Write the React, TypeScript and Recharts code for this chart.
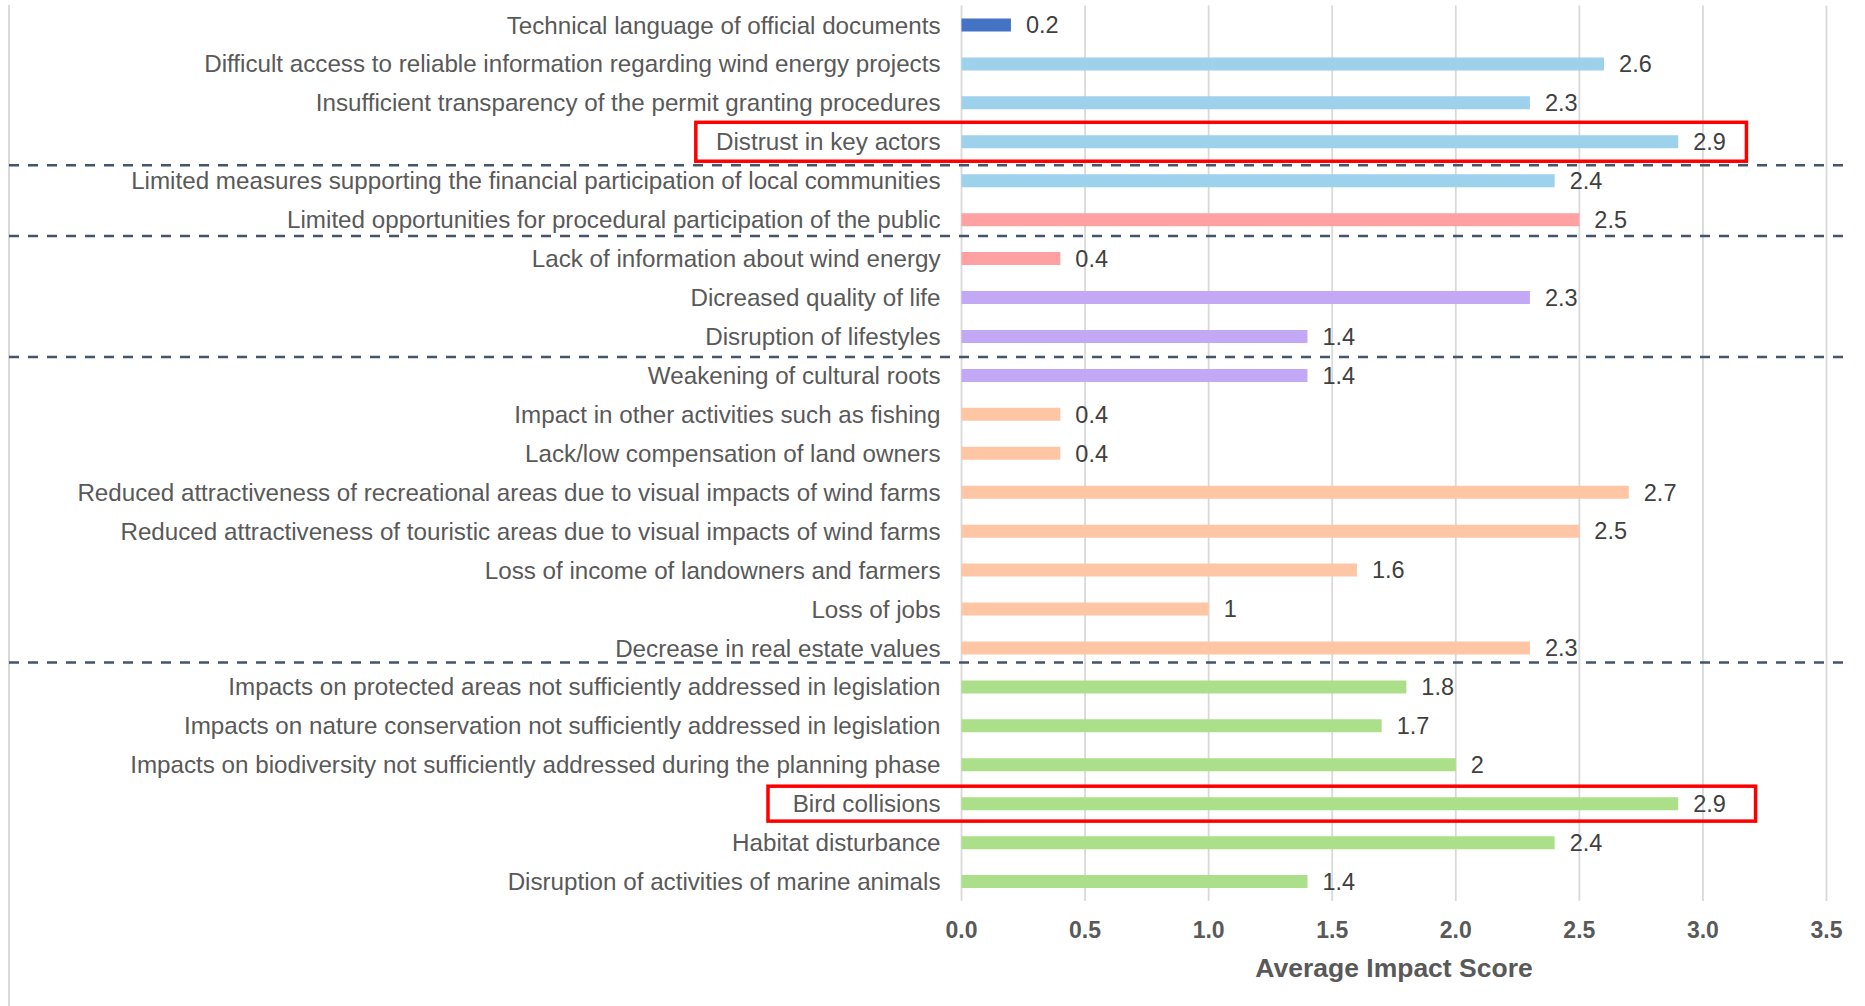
import React from "react";
import {
  BarChart,
  Bar,
  XAxis,
  YAxis,
  CartesianGrid,
  Cell,
  LabelList,
  ReferenceLine,
  ReferenceArea,
} from "recharts";

/* ---------- data ---------- */

const categories = [
  "Technical language of official documents",
  "Difficult access to reliable information regarding wind energy projects",
  "Insufficient transparency of the permit granting procedures",
  "Distrust in key actors",
  "Limited measures supporting the financial participation of local communities",
  "Limited opportunities for procedural participation of the public",
  "Lack of information about wind energy",
  "Dicreased quality of life",
  "Disruption of lifestyles",
  "Weakening of cultural roots",
  "Impact in other activities such as fishing",
  "Lack/low compensation of land owners",
  "Reduced attractiveness of recreational areas due to visual impacts of wind farms",
  "Reduced attractiveness of touristic areas due to visual impacts of wind farms",
  "Loss of income of landowners and farmers",
  "Loss of jobs",
  "Decrease in real estate values",
  "Impacts on protected areas not sufficiently addressed in legislation",
  "Impacts on nature conservation not sufficiently addressed in legislation",
  "Impacts on biodiversity not sufficiently addressed during the planning phase",
  "Bird collisions",
  "Habitat disturbance",
  "Disruption of activities of marine animals",
];

const scores = [
  0.2, 2.6, 2.3, 2.9, 2.4, 2.5, 0.4, 2.3, 1.4, 1.4, 0.4, 0.4, 2.7, 2.5, 1.6, 1,
  2.3, 1.8, 1.7, 2, 2.9, 2.4, 1.4,
];

// colour group of each bar
const groups = [
  "technical",
  "institutional", "institutional", "institutional", "institutional",
  "participation", "participation",
  "social", "social", "social",
  "economic", "economic", "economic", "economic", "economic", "economic", "economic",
  "environmental", "environmental", "environmental", "environmental", "environmental", "environmental",
];

const xTicks = [0, 0.5, 1, 1.5, 2, 2.5, 3, 3.5];

// dashed separators drawn below these categories
const separatorsAfter = [
  "Distrust in key actors",
  "Limited opportunities for procedural participation of the public",
  "Disruption of lifestyles",
  "Decrease in real estate values",
];
const separatorShift = [4, -3, 1, -5]; // hand-drawn, not exactly on the band edge

// red highlight boxes (x extent in score units)
const highlighted = ["Distrust in key actors", "Bird collisions"];
const highlightFrom = [-1.075, -0.783];
const highlightTo = [3.176, 3.213];

/* ---------- styles ---------- */

const groupColors: Record<string, string> = {
  technical: "#4472C4",
  institutional: "#9DD1EC",
  participation: "#FFA0A2",
  social: "#C3A8F5",
  economic: "#FFC6A5",
  environmental: "#ACDF89",
};

const chartData = categories.map((name, i) => ({
  name,
  score: scores[i],
  group: groups[i],
}));

export default function App() {
  return (
    <div
      style={{
        position: "absolute",
        left: 0,
        top: 0,
        width: 1865,
        height: 1006,
        background: "#fff",
        fontFamily: "'Liberation Sans', Arial, sans-serif",
      }}
    >
      {/* left border of the chart area */}
      <div
        style={{
          position: "absolute",
          left: 8,
          top: 5,
          width: 2,
          height: 1001,
          background: "#D9D9D9",
        }}
      />
      <BarChart
        width={1865}
        height={1006}
        data={chartData}
        layout="vertical"
        margin={{ top: 5.5, right: 38.5, bottom: 15, left: 0 }}
        style={{ position: "absolute", left: 0, top: 0 }}
      >
        <CartesianGrid horizontal={false} stroke="#D9D9D9" strokeWidth={1.8} />
        <XAxis
          type="number"
          domain={[0, 3.5]}
          ticks={xTicks}
          tickFormatter={(v: number) => v.toFixed(1)}
          axisLine={false}
          tickLine={false}
          tickMargin={15}
          height={90}
          tick={{ fill: "#595959", fontSize: 23, fontWeight: "bold" }}
          label={{
            value: "Average Impact Score",
            position: "insideBottom",
            offset: 14,
            fill: "#595959",
            fontSize: 26.5,
            fontWeight: "bold",
          }}
        />
        <YAxis
          type="category"
          dataKey="name"
          width={961.5}
          interval={0}
          axisLine={false}
          tickLine={false}
          tickMargin={15}
          tick={{ fill: "#595959", fontSize: 24.2 }}
        />
        <Bar dataKey="score" barSize={13} isAnimationActive={false}>
          {chartData.map((d) => (
            <Cell key={d.name} fill={groupColors[d.group]} />
          ))}
          <LabelList
            dataKey="score"
            position="right"
            offset={15}
            fill="#404040"
            fontSize={23.5}
          />
        </Bar>
        {separatorsAfter.map((c, i) => (
          <ReferenceLine
            key={c}
            y={c}
            position="end"
            shape={(p: any) => (
              <line
                x1={9}
                x2={1847}
                y1={p.y1 + separatorShift[i]}
                y2={p.y2 + separatorShift[i]}
                stroke="#44546A"
                strokeWidth={2.5}
                strokeDasharray="10 9"
              />
            )}
          />
        ))}
        {highlighted.map((c, i) => (
          <ReferenceArea
            key={c}
            y1={c}
            y2={c}
            x1={highlightFrom[i]}
            x2={highlightTo[i]}
            ifOverflow="visible"
            shape={(p: any) => {
              const inset = i === 1 ? 2 : 0;
              return (
                <rect
                  x={p.x}
                  y={p.y + inset}
                  width={p.width}
                  height={p.height - inset * 2}
                  fill="none"
                  stroke="#FF0000"
                  strokeWidth={3.5}
                />
              );
            }}
          />
        ))}
      </BarChart>
    </div>
  );
}
